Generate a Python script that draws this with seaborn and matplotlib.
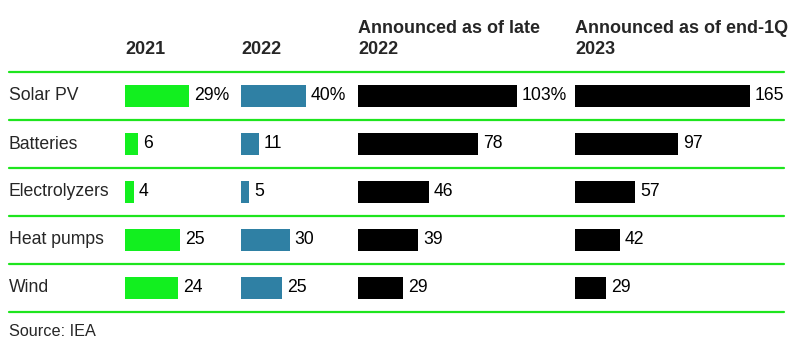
import matplotlib
matplotlib.use("Agg")
import matplotlib.pyplot as plt
import seaborn as sns
import pandas as pd
from matplotlib.lines import Line2D

sns.set_theme(style="white")
plt.rcParams['font.family'] = ['Liberation Sans', 'DejaVu Sans']

categories = ["Solar PV", "Batteries", "Electrolyzers", "Heat pumps", "Wind"]
headers = ["2021", "2022", "Announced as of late\n2022", "Announced as of end-1Q\n2023"]
v2021 = [29, 6, 4, 25, 24]
v2022 = [40, 11, 5, 30, 25]
v_late2022 = [103, 78, 46, 39, 29]
v_end1q2023 = [165, 97, 57, 42, 29]
series = [v2021, v2022, v_late2022, v_end1q2023]
colors = ["#12ef1f", "#2f80a4", "#000000", "#000000"]
line_color = "#1ee51e"

W, H = 800, 349
fig = plt.figure(figsize=(W / 100, H / 100), dpi=100)

def fx(px):
    return px / W

def fy(py):
    return 1 - py / H

# column layout in pixels: (left, width, xmax)
cols = [(125, 116, 52.7), (241, 117, 72), (358, 217, 141), (575, 209, 197)]
top_px, bot_px = 72, 312

for k, (vals, (left, width, xmax)) in enumerate(zip(series, cols)):
    ax = fig.add_axes([fx(left), fy(bot_px), fx(width), (bot_px - top_px) / H])
    df = pd.DataFrame({"cat": categories, "val": vals})
    sns.barplot(data=df, x="val", y="cat", orient="h", ax=ax, color=colors[k],
                width=0.46, saturation=1, edgecolor="none")
    ax.set_xlim(0, xmax)
    ax.set_ylim(4.5, -0.5)
    ax.axis("off")
    for i, v in enumerate(vals):
        lab = f"{v}%" if i == 0 else f"{v}"
        ax.annotate(lab, xy=(v, i), xytext=(3.6, 0), textcoords="offset points",
                    va="center", ha="left", fontsize=12.7, color="#000000",
                    annotation_clip=False, clip_on=True)
    # header
    lines = headers[k].split("\n")
    if len(lines) == 1:
        fig.text(fx(left), fy(54), lines[0], fontsize=13, fontweight="bold",
                 va="baseline", ha="left")
    else:
        fig.text(fx(left), fy(33), lines[0], fontsize=13, fontweight="bold",
                 va="baseline", ha="left")
        fig.text(fx(left), fy(54), lines[1], fontsize=13, fontweight="bold",
                 va="baseline", ha="left")

# row labels
for i, c in enumerate(categories):
    fig.text(fx(9), fy(96 + 48 * i), c, fontsize=12.7, va="center", ha="left")

# separator lines
for j in range(6):
    y = fy(72 + 48 * j)
    fig.add_artist(Line2D([fx(9), fx(784)], [y, y], color=line_color, lw=1.6))

fig.text(fx(9), fy(331), "Source: IEA", fontsize=11.7, va="center", ha="left")

fig.savefig("out.png", dpi=100)
